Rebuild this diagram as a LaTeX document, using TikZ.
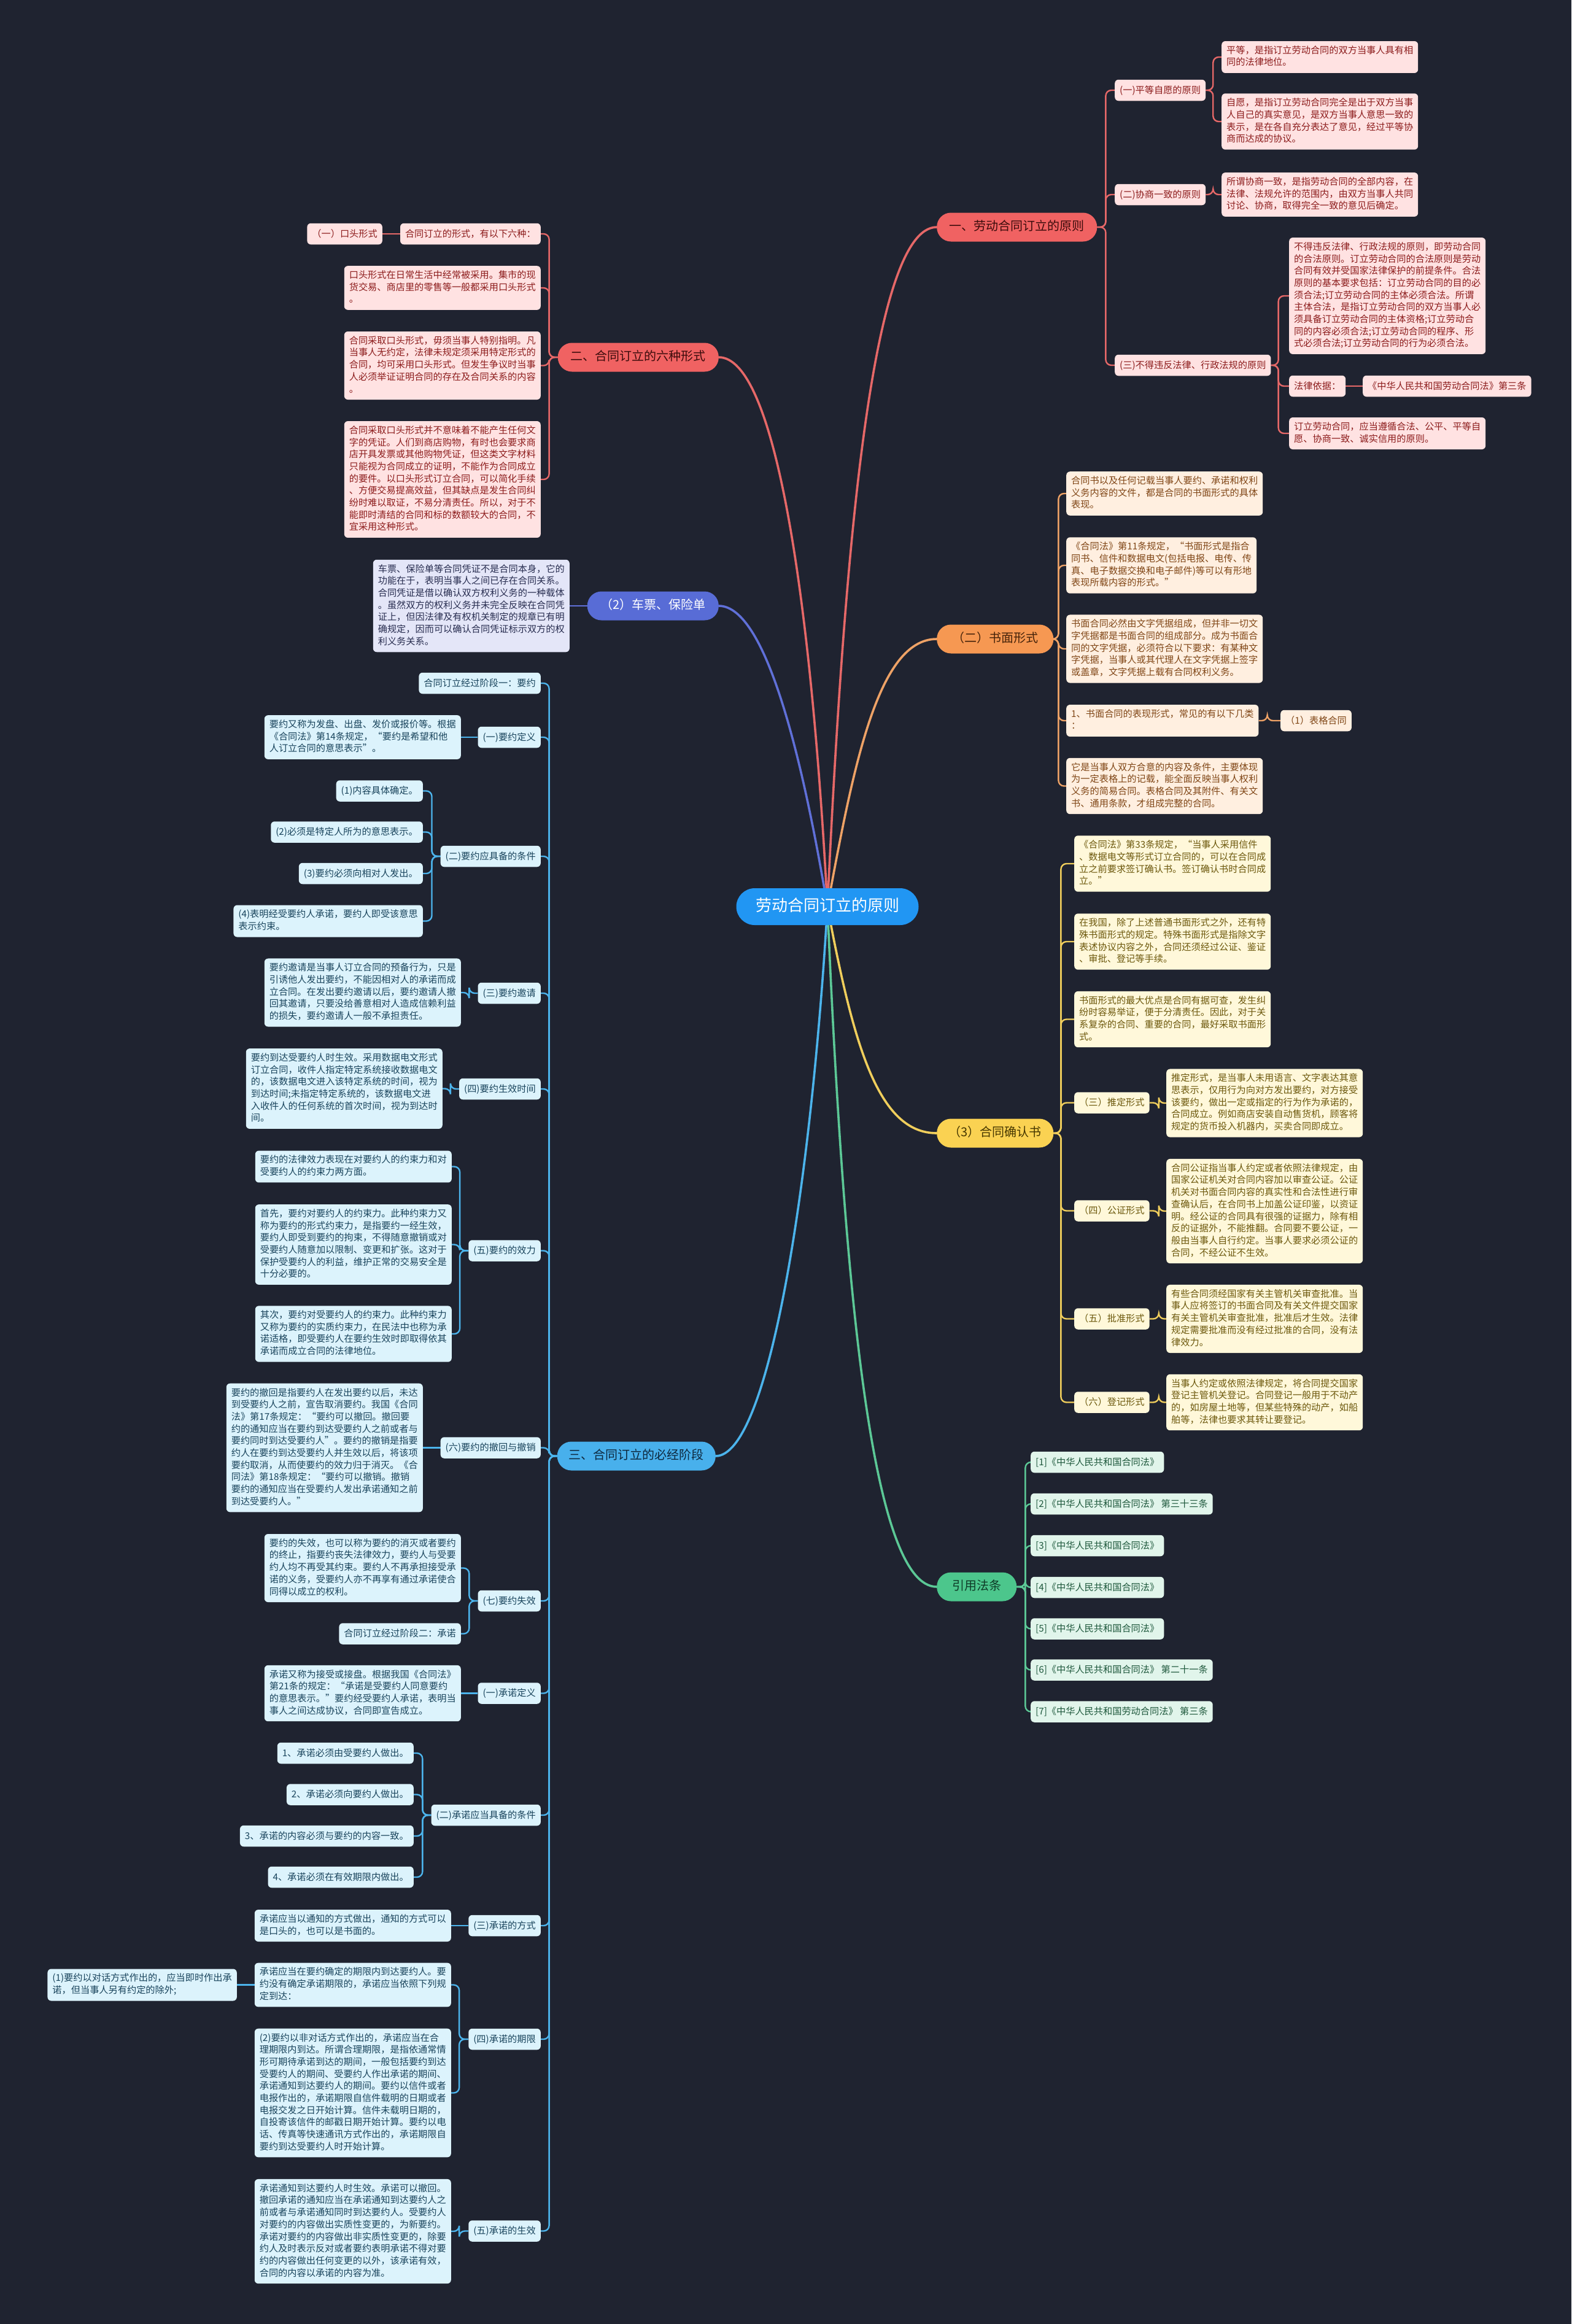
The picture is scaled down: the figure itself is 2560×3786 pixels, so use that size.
\documentclass[tikz,border=0pt]{standalone}
\usepackage{fontspec}
\setmainfont{Noto Sans CJK SC}
\definecolor{bgc}{RGB}{31,35,48}
\definecolor{cF}{RGB}{33,150,243}
\definecolor{rP}{RGB}{240,98,98}\definecolor{rT}{RGB}{60,12,12}\definecolor{rL}{RGB}{255,226,226}\definecolor{rLT}{RGB}{140,28,28}\definecolor{rC}{RGB}{230,104,104}
\definecolor{oP}{RGB}{246,152,82}\definecolor{oT}{RGB}{70,35,10}\definecolor{oL}{RGB}{255,239,224}\definecolor{oLT}{RGB}{128,70,22}\definecolor{oC}{RGB}{238,162,102}
\definecolor{yP}{RGB}{250,210,82}\definecolor{yT}{RGB}{70,55,0}\definecolor{yL}{RGB}{255,248,218}\definecolor{yLT}{RGB}{108,88,12}\definecolor{yC}{RGB}{240,206,92}
\definecolor{gP}{RGB}{76,198,140}\definecolor{gT}{RGB}{15,60,40}\definecolor{gL}{RGB}{225,245,235}\definecolor{gLT}{RGB}{30,88,60}\definecolor{gC}{RGB}{92,200,150}
\definecolor{vP}{RGB}{88,108,214}\definecolor{vL}{RGB}{228,230,248}\definecolor{vLT}{RGB}{40,45,80}\definecolor{vC}{RGB}{96,112,216}
\definecolor{bP}{RGB}{72,176,236}\definecolor{bT}{RGB}{14,40,62}\definecolor{bL}{RGB}{220,243,252}\definecolor{bLT}{RGB}{25,68,92}\definecolor{bC}{RGB}{76,180,236}
\newcommand\fs{\fontsize{15.2pt}{19.7pt}\selectfont}
\newcommand\fbr{\fontsize{20pt}{24pt}\selectfont}
\newcommand\fctr{\fontsize{26pt}{30pt}\selectfont}
\newcommand\mystrut{\rule[-4.6pt]{0pt}{19.7pt}}
\pgfdeclarelayer{back}\pgfdeclarelayer{bg}\pgfsetlayers{back,bg,main}
\begin{document}
\begin{tikzpicture}[x=1pt,y=-1pt,
 box/.style={font=\fs, align=left, rounded corners=6pt, inner xsep=8pt, inner ysep=7.4pt, execute at begin node=\mystrut, execute at end node=\mystrut},
 pill/.style={font=\fbr, align=center, rounded corners=23pt, minimum height=47pt, inner xsep=16pt, text height=15pt, text depth=4pt},
 rB/.style={box, fill=rL, text=rLT}, rPl/.style={pill, fill=rP, text=rT},
 oB/.style={box, fill=oL, text=oLT}, oPl/.style={pill, fill=oP, text=oT},
 yB/.style={box, fill=yL, text=yLT}, yPl/.style={pill, fill=yP, text=yT},
 gB/.style={box, fill=gL, text=gLT}, gPl/.style={pill, fill=gP, text=gT},
 vB/.style={box, fill=vL, text=vLT}, vPl/.style={pill, fill=vP, text=white},
 bB/.style={box, fill=bL, text=bLT}, bPl/.style={pill, fill=bP, text=bT},
 con/.style={line width=2.4pt, rounded corners=9pt},
 mcon/.style={line width=3.6pt, line cap=round},
 W/.style={anchor=west}, E/.style={anchor=east}]
\useasboundingbox (0,0) rectangle (2560,3786);
\begin{pgfonlayer}{back}\fill[bgc] (0,0) rectangle (2560,3786);\end{pgfonlayer}

% centre
\node[font=\fctr, fill=cF, text=white, rounded corners=30pt, minimum width=297pt, minimum height=60pt, text height=19pt, text depth=5pt] (c) at (1348,1477) {劳动合同订立的原则};

% ===== branch 1 (red, right)
\node[rPl, W, minimum width=261pt] (b1) at (1526,370) {一、劳动合同订立的原则};
\node[rB, W] (b1a) at (1816,147) {(一)平等自愿的原则};
\node[rB, W] (b1a1) at (1990,93) {平等，是指订立劳动合同的双方当事人具有相\\同的法律地位。};
\node[rB, W] (b1a2) at (1990,198) {自愿，是指订立劳动合同完全是出于双方当事\\人自己的真实意见，是双方当事人意思一致的\\表示，是在各自充分表达了意见，经过平等协\\商而达成的协议。};
\node[rB, W] (b1b) at (1816,317) {(二)协商一致的原则};
\node[rB, W] (b1b1) at (1990,317) {所谓协商一致，是指劳动合同的全部内容，在\\法律、法规允许的范围内，由双方当事人共同\\讨论、协商，取得完全一致的意见后确定。};
\node[rB, W] (b1c) at (1816,595) {(三)不得违反法律、行政法规的原则};
\node[rB, W] (b1c1) at (2100,482) {不得违反法律、行政法规的原则，即劳动合同\\的合法原则。订立劳动合同的合法原则是劳动\\合同有效并受国家法律保护的前提条件。合法\\原则的基本要求包括：订立劳动合同的目的必\\须合法;订立劳动合同的主体必须合法。所谓\\主体合法，是指订立劳动合同的双方当事人必\\须具备订立劳动合同的主体资格;订立劳动合\\同的内容必须合法;订立劳动合同的程序、形\\式必须合法;订立劳动合同的行为必须合法。};
\node[rB, W] (b1c2) at (2100,629) {法律依据：};
\node[rB, W] (b1c3) at (2220,629) {《中华人民共和国劳动合同法》第三条};
\node[rB, W] (b1c4) at (2100,706) {订立劳动合同，应当遵循合法、公平、平等自\\愿、协商一致、诚实信用的原则。};

% ===== branch 2 (red, left)
\node[rPl, E, minimum width=262pt] (b2) at (1171,582) {二、合同订立的六种形式};
\node[rB, E] (b2a) at (881,381) {合同订立的形式，有以下六种：};
\node[rB, E] (b2a1) at (623,381) {（一）口头形式};
\node[rB, E] (b2b) at (881,469) {口头形式在日常生活中经常被采用。集市的现\\货交易、商店里的零售等一般都采用口头形式\\。};
\node[rB, E] (b2c) at (881,595.5) {合同采取口头形式，毋须当事人特别指明。凡\\当事人无约定，法律未规定须采用特定形式的\\合同，均可采用口头形式。但发生争议时当事\\人必须举证证明合同的存在及合同关系的内容\\。};
\node[rB, E] (b2d) at (881,781) {合同采取口头形式并不意味着不能产生任何文\\字的凭证。人们到商店购物，有时也会要求商\\店开具发票或其他购物凭证，但这类文字材料\\只能视为合同成立的证明，不能作为合同成立\\的要件。以口头形式订立合同，可以简化手续\\、方便交易提高效益，但其缺点是发生合同纠\\纷时难以取证，不易分清责任。所以，对于不\\能即时清结的合同和标的数额较大的合同，不\\宜采用这种形式。};

% ===== branch 3 (violet, left)
\node[vPl, E, minimum width=214pt] (b3) at (1171,987) {（2）车票、保险单};
\node[vB, E] (b3a) at (928,987) {车票、保险单等合同凭证不是合同本身，它的\\功能在于，表明当事人之间已存在合同关系。\\合同凭证是借以确认双方权利义务的一种载体\\。虽然双方的权利义务并未完全反映在合同凭\\证上，但因法律及有权机关制定的规章已有明\\确规定，因而可以确认合同凭证标示双方的权\\利义务关系。};

% ===== branch 4 (blue, left)
\node[bPl, E, minimum width=258pt] (b4) at (1166,2372) {三、合同订立的必经阶段};
\node[bB, E] (k0) at (881,1113) {合同订立经过阶段一：要约};
\node[bB, E] (k1) at (881,1201) {(一)要约定义};
\node[bB, E] (k1a) at (751,1201) {要约又称为发盘、出盘、发价或报价等。根据\\《合同法》第14条规定，“要约是希望和他\\人订立合同的意思表示”。};
\node[bB, E] (k2) at (881,1395) {(二)要约应具备的条件};
\node[bB, E] (k2a) at (689,1288.5) {(1)内容具体确定。};
\node[bB, E] (k2b) at (689,1355.5) {(2)必须是特定人所为的意思表示。};
\node[bB, E] (k2c) at (689,1423) {(3)要约必须向相对人发出。};
\node[bB, E] (k2d) at (689,1500.5) {(4)表明经受要约人承诺，要约人即受该意思\\表示约束。};
\node[bB, E] (k3) at (881,1618) {(三)要约邀请};
\node[bB, E] (k3a) at (751,1617) {要约邀请是当事人订立合同的预备行为，只是\\引诱他人发出要约，不能因相对人的承诺而成\\立合同。在发出要约邀请以后，要约邀请人撤\\回其邀请，只要没给善意相对人造成信赖利益\\的损失，要约邀请人一般不承担责任。};
\node[bB, E] (k4) at (881,1774) {(四)要约生效时间};
\node[bB, E] (k4a) at (721,1773.5) {要约到达受要约人时生效。采用数据电文形式\\订立合同，收件人指定特定系统接收数据电文\\的，该数据电文进入该特定系统的时间，视为\\到达时间;未指定特定系统的，该数据电文进\\入收件人的任何系统的首次时间，视为到达时\\间。};
\node[bB, E] (k5) at (881,2037.5) {(五)要约的效力};
\node[bB, E] (k5a) at (736,1900.5) {要约的法律效力表现在对要约人的约束力和对\\受要约人的约束力两方面。};
\node[bB, E] (k5b) at (736,2027.5) {首先，要约对要约人的约束力。此种约束力又\\称为要约的形式约束力，是指要约一经生效，\\要约人即受到要约的拘束，不得随意撤销或对\\受要约人随意加以限制、变更和扩张。这对于\\保护受要约人的利益，维护正常的交易安全是\\十分必要的。};
\node[bB, E] (k5c) at (736,2173) {其次，要约对受要约人的约束力。此种约束力\\又称为要约的实质约束力，在民法中也称为承\\诺适格，即受要约人在要约生效时即取得依其\\承诺而成立合同的法律地位。};
\node[bB, E] (k6) at (881,2358.5) {(六)要约的撤回与撤销};
\node[bB, E] (k6a) at (689,2358.5) {要约的撤回是指要约人在发出要约以后，未达\\到受要约人之前，宣告取消要约。我国《合同\\法》第17条规定：“要约可以撤回。撤回要\\约的通知应当在要约到达受要约人之前或者与\\要约同时到达受要约人”。要约的撤销是指要\\约人在要约到达受要约人并生效以后，将该项\\要约取消，从而使要约的效力归于消灭。《合\\同法》第18条规定：“要约可以撤销。撤销\\要约的通知应当在受要约人发出承诺通知之前\\到达受要约人。”};
\node[bB, E] (k7) at (881,2608) {(七)要约失效};
\node[bB, E] (k7a) at (751,2554.5) {要约的失效，也可以称为要约的消灭或者要约\\的终止，指要约丧失法律效力，要约人与受要\\约人均不再受其约束。要约人不再承担接受承\\诺的义务，受要约人亦不再享有通过承诺使合\\同得以成立的权利。};
\node[bB, E] (k7b) at (751,2661.5) {合同订立经过阶段二：承诺};
\node[bB, E] (k8) at (881,2758.5) {(一)承诺定义};
\node[bB, E] (k8a) at (751,2758.5) {承诺又称为接受或接盘。根据我国《合同法》\\第21条的规定：“承诺是受要约人同意要约\\的意思表示。”要约经受要约人承诺，表明当\\事人之间达成协议，合同即宣告成立。};
\node[bB, E] (k9) at (881,2957) {(二)承诺应当具备的条件};
\node[bB, E] (k9a) at (674,2856) {1、承诺必须由受要约人做出。};
\node[bB, E] (k9b) at (674,2923.5) {2、承诺必须向要约人做出。};
\node[bB, E] (k9c) at (674,2991) {3、承诺的内容必须与要约的内容一致。};
\node[bB, E] (k9d) at (674,3058) {4、承诺必须在有效期限内做出。};
\node[bB, E] (k10) at (881,3137) {(三)承诺的方式};
\node[bB, E] (k10a) at (735,3137) {承诺应当以通知的方式做出，通知的方式可以\\是口头的，也可以是书面的。};
\node[bB, E] (k11) at (881,3322) {(四)承诺的期限};
\node[bB, E] (k11a) at (735,3233.5) {承诺应当在要约确定的期限内到达要约人。要\\约没有确定承诺期限的，承诺应当依照下列规\\定到达：};
\node[bB, E] (k11a1) at (386,3233.5) {(1)要约以对话方式作出的，应当即时作出承\\诺，但当事人另有约定的除外;};
\node[bB, E] (k11b) at (735,3409.5) {(2)要约以非对话方式作出的，承诺应当在合\\理期限内到达。所谓合理期限，是指依通常情\\形可期待承诺到达的期间，一般包括要约到达\\受要约人的期间、受要约人作出承诺的期间、\\承诺通知到达要约人的期间。要约以信件或者\\电报作出的，承诺期限自信件载明的日期或者\\电报交发之日开始计算。信件未载明日期的，\\自投寄该信件的邮戳日期开始计算。要约以电\\话、传真等快速通讯方式作出的，承诺期限自\\要约到达受要约人时开始计算。};
\node[bB, E] (k12) at (881,3634.5) {(五)承诺的生效};
\node[bB, E] (k12a) at (735,3635) {承诺通知到达要约人时生效。承诺可以撤回。\\撤回承诺的通知应当在承诺通知到达要约人之\\前或者与承诺通知同时到达要约人。受要约人\\对要约的内容做出实质性变更的，为新要约。\\承诺对要约的内容做出非实质性变更的，除要\\约人及时表示反对或者要约表明承诺不得对要\\约的内容做出任何变更的以外，该承诺有效，\\合同的内容以承诺的内容为准。};

% ===== branch 5 (orange, right)
\node[oPl, W, minimum width=190pt] (b5) at (1526,1041) {（二）书面形式};
\node[oB, W] (o1) at (1737,804) {合同书以及任何记载当事人要约、承诺和权利\\义务内容的文件，都是合同的书面形式的具体\\表现。};
\node[oB, W] (o2) at (1737,921) {《合同法》第11条规定，“书面形式是指合\\同书、信件和数据电文(包括电报、电传、传\\真、电子数据交换和电子邮件)等可以有形地\\表现所载内容的形式。”};
\node[oB, W] (o3) at (1737,1057) {书面合同必然由文字凭据组成，但并非一切文\\字凭据都是书面合同的组成部分。成为书面合\\同的文字凭据，必须符合以下要求：有某种文\\字凭据，当事人或其代理人在文字凭据上签字\\或盖章，文字凭据上载有合同权利义务。};
\node[oB, W] (o4) at (1737,1174) {1、书面合同的表现形式，常见的有以下几类\\：};
\node[oB, W] (o4a) at (2086,1174) {（1）表格合同};
\node[oB, W] (o5) at (1737,1280.5) {它是当事人双方合意的内容及条件，主要体现\\为一定表格上的记载，能全面反映当事人权利\\义务的简易合同。表格合同及其附件、有关文\\书、通用条款，才组成完整的合同。};

% ===== branch 6 (yellow, right)
\node[yPl, W, minimum width=190pt] (b6) at (1526,1846) {（3）合同确认书};
\node[yB, W] (y1) at (1750,1407) {《合同法》第33条规定，“当事人采用信件\\、数据电文等形式订立合同的，可以在合同成\\立之前要求签订确认书。签订确认书时合同成\\立。”};
\node[yB, W] (y2) at (1750,1534) {在我国，除了上述普通书面形式之外，还有特\\殊书面形式的规定。特殊书面形式是指除文字\\表述协议内容之外，合同还须经过公证、鉴证\\、审批、登记等手续。};
\node[yB, W] (y3) at (1750,1660.5) {书面形式的最大优点是合同有据可查，发生纠\\纷时容易举证，便于分清责任。因此，对于关\\系复杂的合同、重要的合同，最好采取书面形\\式。};
\node[yB, W] (y4) at (1750,1796.5) {（三）推定形式};
\node[yB, W] (y4a) at (1900,1797) {推定形式，是当事人未用语言、文字表达其意\\思表示，仅用行为向对方发出要约，对方接受\\该要约，做出一定或指定的行为作为承诺的，\\合同成立。例如商店安装自动售货机，顾客将\\规定的货币投入机器内，买卖合同即成立。};
\node[yB, W] (y5) at (1750,1972.5) {（四）公证形式};
\node[yB, W] (y5a) at (1900,1973) {合同公证指当事人约定或者依照法律规定，由\\国家公证机关对合同内容加以审查公证。公证\\机关对书面合同内容的真实性和合法性进行审\\查确认后，在合同书上加盖公证印鉴，以资证\\明。经公证的合同具有很强的证据力，除有相\\反的证据外，不能推翻。合同要不要公证，一\\般由当事人自行约定。当事人要求必须公证的\\合同，不经公证不生效。};
\node[yB, W] (y6) at (1750,2148.5) {（五）批准形式};
\node[yB, W] (y6a) at (1900,2148.5) {有些合同须经国家有关主管机关审查批准。当\\事人应将签订的书面合同及有关文件提交国家\\有关主管机关审查批准，批准后才生效。法律\\规定需要批准而没有经过批准的合同，没有法\\律效力。};
\node[yB, W] (y7) at (1750,2284.5) {（六）登记形式};
\node[yB, W] (y7a) at (1900,2284.5) {当事人约定或依照法律规定，将合同提交国家\\登记主管机关登记。合同登记一般用于不动产\\的，如房屋土地等，但某些特殊的动产，如船\\舶等，法律也要求其转让要登记。};

% ===== branch 7 (green, right)
\node[gPl, W, minimum width=130pt] (b7) at (1526,2585) {引用法条};
\node[gB, W] (g1) at (1679,2382) {[1]《中华人民共和国合同法》};
\node[gB, W] (g2) at (1679,2450) {[2]《中华人民共和国合同法》 第三十三条};
\node[gB, W] (g3) at (1679,2518) {[3]《中华人民共和国合同法》};
\node[gB, W] (g4) at (1679,2586) {[4]《中华人民共和国合同法》};
\node[gB, W] (g5) at (1679,2653.5) {[5]《中华人民共和国合同法》};
\node[gB, W] (g6) at (1679,2720.5) {[6]《中华人民共和国合同法》 第二十一条};
\node[gB, W] (g7) at (1679,2788.5) {[7]《中华人民共和国劳动合同法》 第三条};

\begin{pgfonlayer}{bg}
% centre to branches
\draw[mcon, rC] (c.center) .. controls (1375,900) and (1420,370) .. (b1.west);
\draw[mcon, oC] (c.center) .. controls (1390,1250) and (1430,1041) .. (b5.west);
\draw[mcon, yC] (c.center) .. controls (1390,1700) and (1430,1846) .. (b6.west);
\draw[mcon, gC] (c.center) .. controls (1375,2100) and (1420,2585) .. (b7.west);
\draw[mcon, rC] (c.center) .. controls (1320,950) and (1260,582) .. (b2.east);
\draw[mcon, vC] (c.center) .. controls (1310,1250) and (1250,987) .. (b3.east);
\draw[mcon, bC] (c.center) .. controls (1320,1950) and (1250,2372) .. (b4.east);
% red right
\foreach \n in {b1a,b1b,b1c} \draw[con, rC] (b1.east) -- ++(14,0) |- (\n.west);
\foreach \n in {b1a1,b1a2} \draw[con, rC] (b1a.east) -- ++(12,0) |- (\n.west);
\draw[con, rC] (b1b.east) -- ++(12,0) |- (b1b1.west);
\foreach \n in {b1c1,b1c2,b1c4} \draw[con, rC] (b1c.east) -- ++(12,0) |- (\n.west);
\draw[con, rC] (b1c2.east) -- (b1c3.west);
% red left
\foreach \n in {b2a,b2b,b2c,b2d} \draw[con, rC] (b2.west) -- ++(-14,0) |- (\n.east);
\draw[con, rC] (b2a.west) -- (b2a1.east);
% violet
\draw[con, vC] (b3.west) -- (b3a.east);
% blue
\foreach \n in {k0,k1,k2,k3,k4,k5,k6,k7,k8,k9,k10,k11,k12} \draw[con, bC] (b4.west) -- ++(-13,0) |- (\n.east);
\draw[con, bC] (k1.west) -- (k1a.east);
\foreach \n in {k2a,k2b,k2c,k2d} \draw[con, bC] (k2.west) -- ++(-14,0) |- (\n.east);
\draw[con, bC] (k3.west) -- ++(-14,0) |- (k3a.east);
\draw[con, bC] (k4.west) -- ++(-14,0) |- (k4a.east);
\foreach \n in {k5a,k5b,k5c} \draw[con, bC] (k5.west) -- ++(-14,0) |- (\n.east);
\draw[con, bC] (k6.west) -- (k6a.east);
\foreach \n in {k7a,k7b} \draw[con, bC] (k7.west) -- ++(-14,0) |- (\n.east);
\draw[con, bC] (k8.west) -- (k8a.east);
\foreach \n in {k9a,k9b,k9c,k9d} \draw[con, bC] (k9.west) -- ++(-14,0) |- (\n.east);
\draw[con, bC] (k10.west) -- (k10a.east);
\foreach \n in {k11a,k11b} \draw[con, bC] (k11.west) -- ++(-15,0) |- (\n.east);
\draw[con, bC] (k11a.west) -- (k11a1.east);
\draw[con, bC] (k12.west) -- ++(-15,0) |- (k12a.east);
% orange
\foreach \n in {o1,o2,o3,o4,o5} \draw[con, oC] (b5.east) -- ++(8,0) |- (\n.west);
\draw[con, oC] (o4.east) -- ++(14,0) |- (o4a.west);
% yellow
\foreach \n in {y1,y2,y3,y4,y5,y6,y7} \draw[con, yC] (b6.east) -- ++(12,0) |- (\n.west);
\draw[con, yC] (y4.east) -- ++(15,0) |- (y4a.west);
\draw[con, yC] (y5.east) -- ++(15,0) |- (y5a.west);
\draw[con, yC] (y6.east) -- ++(15,0) |- (y6a.west);
\draw[con, yC] (y7.east) -- ++(15,0) |- (y7a.west);
% green
\foreach \n in {g1,g2,g3,g4,g5,g6,g7} \draw[con, gC] (b7.east) -- ++(14,0) |- (\n.west);
\end{pgfonlayer}
\end{tikzpicture}
\end{document}
